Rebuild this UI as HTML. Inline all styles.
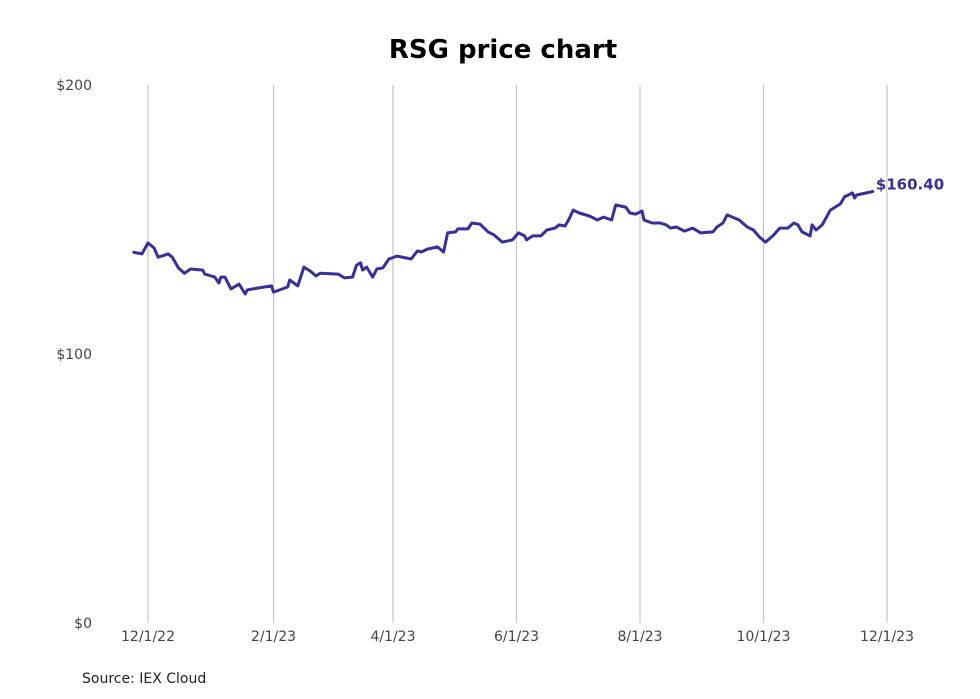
<!DOCTYPE html>
<html><head><meta charset="utf-8"><style>
body{margin:0;background:#fff;font-family:"Liberation Sans","DejaVu Sans",sans-serif}
svg{display:block}
</style></head><body>
<svg id="chart" width="980" height="699" viewBox="0 0 980 699">
<text x="503" y="58" text-anchor="middle" font-size="26" font-weight="bold" fill="#000" font-family="DejaVu Sans, Liberation Sans, sans-serif">RSG price chart</text>
<g id="grid"></g>
<g id="yaxis"></g>
<g id="xaxis"></g>
<g id="series"></g>
<text x="82" y="683" font-size="14" fill="#222" font-family="DejaVu Sans, Liberation Sans, sans-serif">Source: IEX Cloud</text>
</svg>
<script>
// days since 2022-12-01
const dayOffsets=[-7,-3,0,3,5,10,12,15,18,21,27,28,33,35,36,38,41,45,48,49,54,61,62,69,70,74,77,80,83,85,94,97,101,103,105,106,108,111,113,116,119,123,130,133,135,138,143,146,148,152,153,158,160,164,168,171,175,180,183,186,187,190,194,197,201,203,206,208,210,213,218,222,225,229,231,236,238,241,244,245,249,253,256,258,261,265,269,273,279,281,284,286,292,296,299,302,305,309,312,316,319,321,323,327,328,330,333,337,342,344,348,349,350,358];
const prices=[137.8,137.2,141.3,139.4,136,137.2,136,132,130,131.6,131.2,129.7,128.6,126.4,128.6,128.6,124.2,126,122.3,123.8,124.5,125.3,123,124.9,127.5,125.3,132.3,130.9,129,130,129.7,128.3,128.6,133,133.9,131.2,132.3,128.6,131.6,132,135.3,136.4,135.3,138.3,137.9,139,139.8,137.9,145,145.4,146.5,146.5,148.7,148.3,145.4,144.2,141.6,142.4,145,143.9,142.4,143.9,143.9,146.1,146.8,148,147.6,150.2,153.5,152.4,151.3,149.8,150.9,149.8,155.4,154.6,152.4,152,153.2,149.8,148.7,148.7,148,146.8,147.2,145.7,146.8,145,145.4,147.2,148.7,151.7,149.8,147.2,146.1,143.5,141.6,144.2,146.8,146.8,148.7,148,145.4,143.9,148,146.1,148,153.5,155.8,158.4,159.9,158,159.1,160.4];
const yTicks=[0,100,200];
const yTickLabels=["$0","$100","$200"];
const xTickDays=[0,62,121,182,243,304,365];
const xTickLabels=["12/1/22","2/1/23","4/1/23","6/1/23","8/1/23","10/1/23","12/1/23"];
const lastLabel="$160.40";

const NS="http://www.w3.org/2000/svg";
const x=d=>148+d*(739/365);
const y=v=>623-v*2.69;
function mk(t,a,p){const e=document.createElementNS(NS,t);for(const k in a)e.setAttribute(k,a[k]);p.appendChild(e);return e;}
const grid=document.getElementById('grid'),ya=document.getElementById('yaxis'),xa=document.getElementById('xaxis'),se=document.getElementById('series');
xTickDays.forEach((d,i)=>{
 const l=mk('line',{x1:x(d),x2:x(d),y1:85,y2:623,stroke:'#c4c4c4','stroke-width':1.2},grid);
 
 
 const t=mk('text',{x:x(d),y:641,'text-anchor':'middle','font-size':14,fill:'#444','font-family':'DejaVu Sans, Liberation Sans, sans-serif'},xa);
 t.textContent=xTickLabels[i];
 
 
});
yTicks.forEach((v,i)=>{
 const t=mk('text',{x:92,y:y(v)+5,'text-anchor':'end','font-size':14,fill:'#444','font-family':'DejaVu Sans, Liberation Sans, sans-serif'},ya);
 t.textContent=yTickLabels[i];
 
 
});
const pts=dayOffsets.map((d,i)=>x(d).toFixed(1)+','+y(prices[i]).toFixed(1)).join(' ');
const pl=mk('polyline',{points:pts,fill:'none',stroke:'#35309a','stroke-width':3,'stroke-linejoin':'round','stroke-linecap':'round'},se);


const n=dayOffsets.length-1;
const lt=mk('text',{x:x(dayOffsets[n])+3,y:y(prices[n])-2,'font-size':15,'font-weight':'bold',fill:'#35309a','font-family':'DejaVu Sans, Liberation Sans, sans-serif'},se);
lt.textContent=lastLabel;


</script>
</body></html>
